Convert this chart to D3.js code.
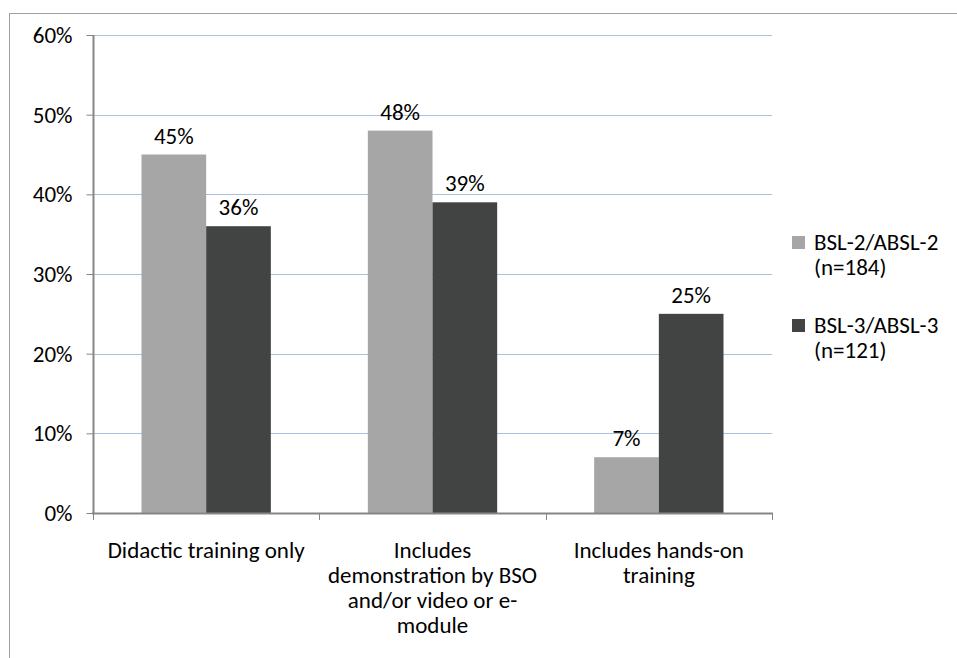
<!DOCTYPE html>
<html><head><meta charset="utf-8">
<script src="https://cdn.jsdelivr.net/npm/d3@7"></script>
<style>body{margin:0;background:#fff}svg{display:block}text{font-family:Carlito,Lato,sans-serif;fill:#000}</style>
</head><body>
<svg id="c" width="957" height="658"></svg>
<script>
const categories = [["Didactic training only"], ["Includes", "demonstration by BSO", "and/or video or e-", "module"], ["Includes hands-on", "training"]];
const seriesNames = [["BSL-2/ABSL-2", "(n=184)"], ["BSL-3/ABSL-3", "(n=121)"]];
const bsl2 = [45, 48, 7];
const bsl3 = [36, 39, 25];
const yTicks = [0, 10, 20, 30, 40, 50, 60];
const colors = ["#a6a6a6", "#424443"];
const FS = 23;

const svg = d3.select("#c");
svg.append("rect").attr("x", 9.5).attr("y", 13.5).attr("width", 960).attr("height", 660)
  .attr("fill", "#fff").attr("stroke", "#a0a0a0").attr("stroke-width", 1);

const x0 = d3.scaleBand().domain(d3.range(categories.length)).range([93, 772]).paddingInner(0).paddingOuter(0);
const x1 = d3.scaleBand().domain([0, 1]).range([0, x0.bandwidth()]).paddingOuter(0.75).paddingInner(0);
const y = d3.scaleLinear().domain([0, 60]).range([513, 35]);

// gridlines
svg.append("g").selectAll("line").data(yTicks.filter(d => d > 0)).join("line")
  .attr("x1", 93).attr("x2", 772).attr("y1", d => Math.round(y(d)) + 0.5).attr("y2", d => Math.round(y(d)) + 0.5)
  .attr("stroke", "#a9c1e0").attr("stroke-width", 1);

// bars
const series = [bsl2, bsl3];
series.forEach((vals, si) => {
  svg.append("g").selectAll("rect").data(vals).join("rect")
    .attr("x", (d, i) => x0(i) + x1(si))
    .attr("width", x1.bandwidth())
    .attr("y", d => y(d))
    .attr("height", d => y(0) - y(d))
    .attr("fill", colors[si]);
  svg.append("g").selectAll("text").data(vals).join("text")
    .attr("x", (d, i) => x0(i) + x1(si) + x1.bandwidth() / 2)
    .attr("y", d => y(d) - 11)
    .attr("text-anchor", "middle").attr("font-size", FS)
    .text(d => d + "%");
});

// y axis
const yAxis = d3.axisLeft(y).tickValues(yTicks).tickFormat(d => d + "%").tickSize(7).tickPadding(14);
const gy = svg.append("g").attr("transform", "translate(93.5,0)").call(yAxis);
gy.select(".domain").attr("stroke", "#868686").attr("stroke-width", 2).attr("d", "M0,35V514");
gy.selectAll(".tick line").attr("stroke", "#868686");
gy.selectAll(".tick text").attr("font-size", FS).attr("fill", "#000").style("font-family", "Carlito,Lato,sans-serif");

// x axis
const gx = svg.append("g");
gx.append("line").attr("x1", 92).attr("x2", 773).attr("y1", 513.5).attr("y2", 513.5).attr("stroke", "#868686").attr("stroke-width", 2);
const bounds = d3.range(categories.length + 1).map(i => i < categories.length ? x0(i) : x0(categories.length - 1) + x0.bandwidth());
gx.selectAll(".xt").data(bounds).join("line").attr("class", "xt")
  .attr("x1", d => Math.round(d) + 0.5).attr("x2", d => Math.round(d) + 0.5).attr("y1", 513).attr("y2", 520)
  .attr("stroke", "#868686");
categories.forEach((lines, i) => {
  const t = gx.append("text").attr("text-anchor", "middle").attr("font-size", FS)
    .attr("x", x0(i) + x0.bandwidth() / 2).attr("y", 558);
  lines.forEach((l, j) => t.append("tspan").attr("x", x0(i) + x0.bandwidth() / 2).attr("y", 558 + j * 25).text(l));
});

// legend
const lg = svg.append("g");
seriesNames.forEach((lines, i) => {
  const top = 236 + i * 83;
  lg.append("rect").attr("x", 792).attr("y", top).attr("width", 13).attr("height", 13).attr("fill", colors[i]);
  const t = lg.append("text").attr("font-size", FS);
  lines.forEach((l, j) => t.append("tspan").attr("x", 814).attr("y", top + 14 + j * 25).text(l));
});
</script>
</body></html>
